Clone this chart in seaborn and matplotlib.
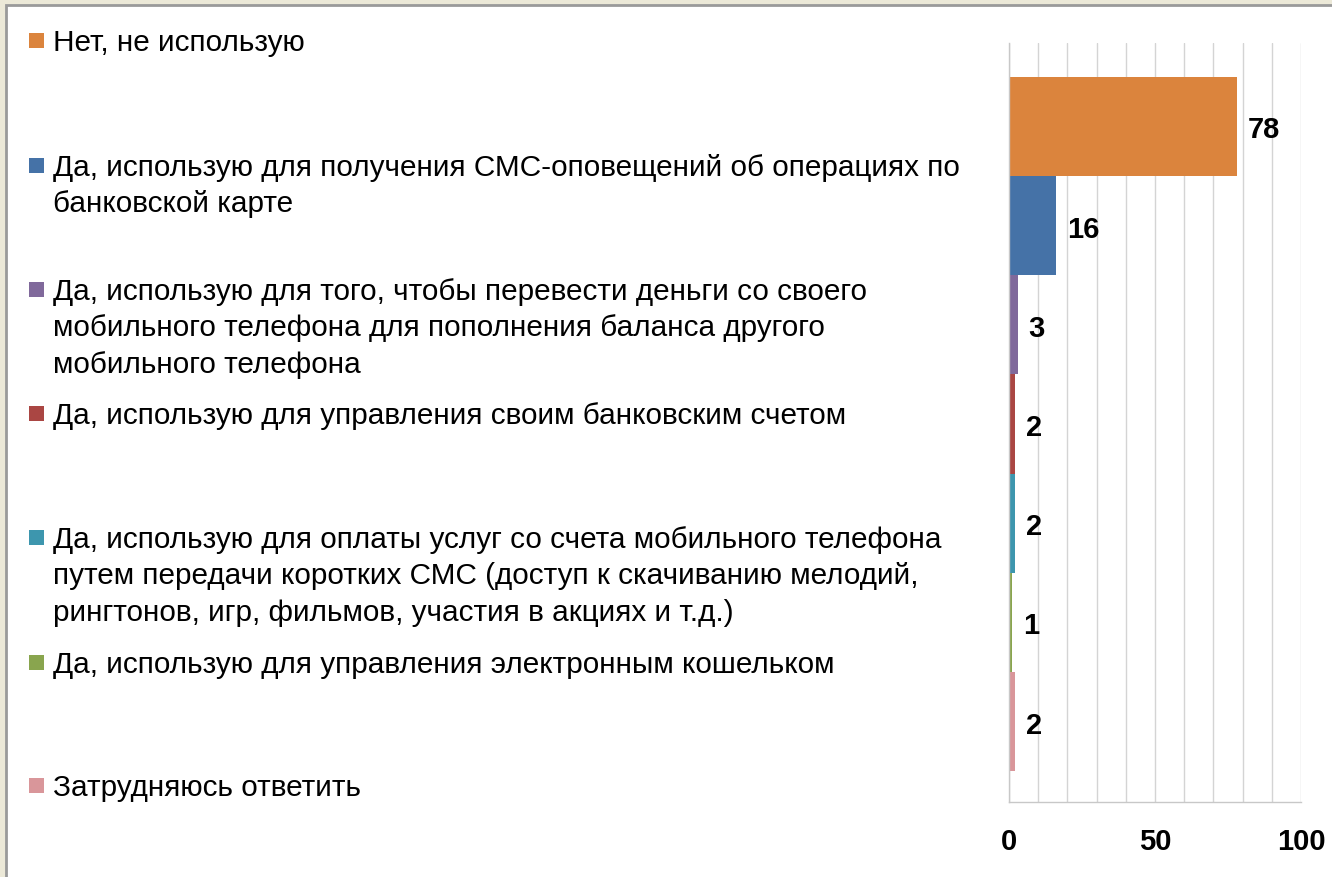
import matplotlib
matplotlib.use("Agg")
import matplotlib.pyplot as plt
from matplotlib.patches import Rectangle
import seaborn as sns
import pandas as pd

# Survey answers (top to bottom) and their shares, %
categories = [
    "Нет, не использую",
    "Да, использую для получения СМС-оповещений об операциях по банковской карте",
    "Да, использую для того, чтобы перевести деньги со своего мобильного телефона для пополнения баланса другого мобильного телефона",
    "Да, использую для управления своим банковским счетом",
    "Да, использую для оплаты услуг со счета мобильного телефона путем передачи коротких СМС (доступ к скачиванию мелодий, рингтонов, игр, фильмов, участия в акциях и т.д.)",
    "Да, использую для управления электронным кошельком",
    "Затрудняюсь ответить",
]
values = [78, 16, 3, 2, 2, 1, 2]
colors = ["#DB843D", "#4572A7", "#80699B", "#AA4643", "#3D96AE", "#89A54E", "#D9969A"]

# Legend text, wrapped as in the slide
legend_lines = [
    ["Нет, не использую"],
    ["Да, использую для получения СМС-оповещений об операциях по",
     "банковской карте"],
    ["Да, использую для того, чтобы перевести деньги со своего",
     "мобильного телефона для пополнения баланса другого",
     "мобильного телефона"],
    ["Да, использую для управления своим банковским счетом"],
    ["Да, использую для оплаты услуг со счета мобильного телефона",
     "путем передачи коротких СМС (доступ к скачиванию мелодий,",
     "рингтонов, игр, фильмов, участия в акциях и т.д.)"],
    ["Да, использую для управления электронным кошельком"],
    ["Затрудняюсь ответить"],
]
x_ticks = [0, 50, 100]

sns.set_theme(style="white")
plt.rcParams["font.family"] = ["Liberation Sans", "DejaVu Sans"]

W, H = 1332, 877
fig = plt.figure(figsize=(W / 100, H / 100), dpi=100, facecolor="#ECE9D8")

# white slide panel with a thin grey frame, kept behind everything
fig.patches.append(Rectangle((6 / W, -0.05), 1.1, (H - 5) / H + 0.05,
                             transform=fig.transFigure, facecolor="white",
                             edgecolor="#9A9A9A", lw=2, zorder=-10))

ax = fig.add_axes([1009 / W, 1 - 802 / H, (1301 - 1009) / W, (802 - 43) / H])
ax.set_facecolor("none")

df = pd.DataFrame({"cat": categories, "val": values})
sns.barplot(data=df, x="val", y="cat", hue="cat", order=categories,
            hue_order=categories, palette=colors, width=1.0, orient="h",
            saturation=1, legend=False, linewidth=0, ax=ax)

# value labels just right of each bar end
for i, v in enumerate(values):
    ax.annotate(str(v), xy=(v, i), xytext=(11, -4), textcoords="offset pixels",
                ha="left", va="center", fontsize=21, fontweight="bold",
                color="black")

ax.set_xlim(0, 100)
ax.set_ylim(6.5 + 0.31, -0.5 - 0.34)
ax.set_xticks(range(0, 101, 10), minor=True)
ax.set_xticks(x_ticks)
ax.set_xticklabels([str(t) for t in x_ticks], fontsize=21, fontweight="bold",
                   color="black")
ax.tick_params(axis="x", which="both", length=0, pad=19, labelcolor="black")
ax.set_yticks([])
ax.set_xlabel("")
ax.set_ylabel("")
ax.grid(axis="x", which="both", color="#D4D4D4", lw=1)
ax.set_axisbelow(True)
for side in ["top", "right"]:
    ax.spines[side].set_visible(False)
for side in ["left", "bottom"]:
    ax.spines[side].set_color("#C8C8C8")
    ax.spines[side].set_linewidth(1)

# legend on the left: colour square + wrapped label
first_baseline = [51, 176, 300, 424, 548, 673, 796]
line_step = 36.3
for lines, col, y0 in zip(legend_lines, colors, first_baseline):
    fig.patches.append(Rectangle((29 / W, 1 - (y0 - 3) / H), 15 / W, 15 / H,
                                 transform=fig.transFigure, facecolor=col,
                                 edgecolor="none"))
    for k, line in enumerate(lines):
        fig.text(53 / W, 1 - (y0 + k * line_step) / H, line, fontsize=21.4,
                 color="black", va="baseline", ha="left")

fig.savefig("out.png", dpi=100, facecolor=fig.get_facecolor())
